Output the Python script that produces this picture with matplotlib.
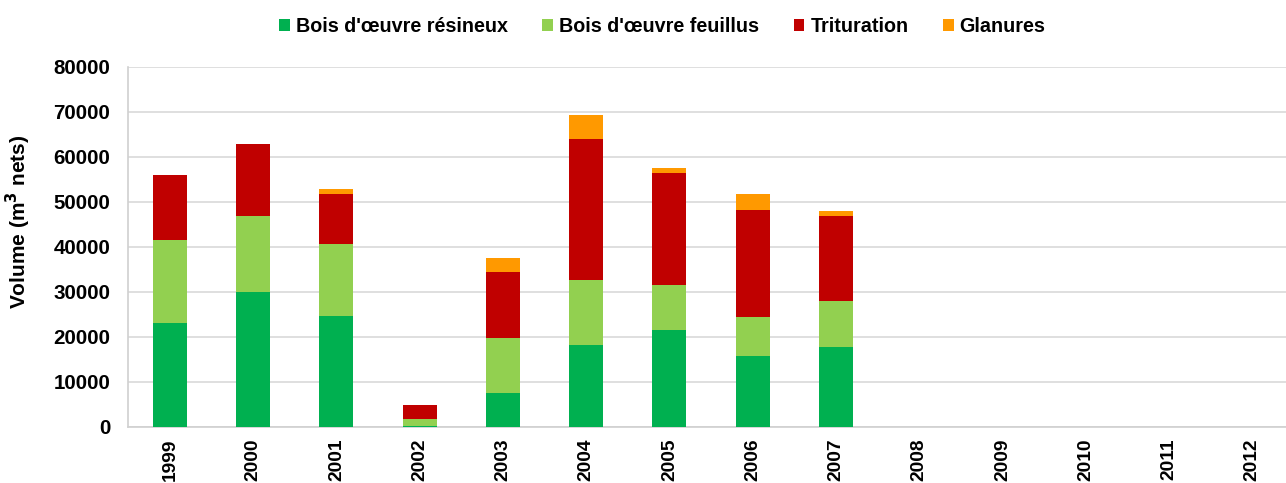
import numpy as np
import matplotlib.pyplot as plt

annees = ['1999', '2000', '2001', '2002', '2003', '2004', '2005', '2006', '2007',
          '2008', '2009', '2010', '2011', '2012']
resineux = [23000, 30000, 24700, 300, 7500, 18100, 21500, 15800, 17800, 0, 0, 0, 0, 0]
feuillus = [18400, 16900, 15900, 1500, 12200, 14600, 10000, 8500, 10200, 0, 0, 0, 0, 0]
trituration = [14500, 15900, 11000, 3000, 14800, 31200, 24900, 23900, 18900, 0, 0, 0, 0, 0]
glanures = [0, 0, 1300, 0, 3000, 5400, 1000, 3400, 1100, 0, 0, 0, 0, 0]

series = [
    ("Bois d'œuvre résineux", resineux, '#00b050'),
    ("Bois d'œuvre feuillus", feuillus, '#92d050'),
    ('Trituration', trituration, '#c00000'),
    ('Glanures', glanures, '#ff9900'),
]

plt.rcParams['font.family'] = ['Liberation Sans', 'DejaVu Sans']
plt.rcParams['font.weight'] = 'bold'

fig = plt.figure(figsize=(12.86, 4.83), dpi=100)
# l'axe déborde un peu à droite comme dans l'original (image rognée)
ax = fig.add_axes([128.3 / 1286, 56 / 483, 1165.5 / 1286, 360.5 / 483])

x = np.arange(len(annees))
bas = np.zeros(len(annees))
for nom, vals, couleur in series:
    vals = np.array(vals, dtype=float)
    ax.bar(x, vals, 0.41, bottom=bas, color=couleur, label=nom, zorder=3, linewidth=0)
    bas += vals

ax.set_xlim(-0.5, len(annees) - 0.5)
ax.set_ylim(0, 80000)
ax.set_yticks(range(0, 80001, 10000))
ax.set_yticklabels([str(v) for v in range(0, 80001, 10000)], fontsize=14.8, fontweight='bold')
ax.set_xticks(x)
ax.set_xticklabels(annees, rotation=90, fontsize=13.8, fontweight='bold')
ax.tick_params(length=0, pad=13, axis='y')
ax.tick_params(length=0, pad=8.5, axis='x')

ax.grid(axis='y', color='#d9d9d9', linewidth=1.2, zorder=0)
for s in ['top', 'right']:
    ax.spines[s].set_visible(False)
ax.spines['left'].set_color('#d0d0d0')
ax.spines['bottom'].set_color('#d0d0d0')
ax.spines['left'].set_linewidth(1.2)
ax.spines['bottom'].set_linewidth(1.2)

ax.set_ylabel('Volume (m$^\\mathbf{3}$ nets)', fontsize=15, fontweight='bold')
ax.yaxis.set_label_coords(-0.082, 0.57)

fig.legend(loc='upper center', bbox_to_anchor=(0.515, 1.002), ncol=4, frameon=False,
           handlelength=0.55, handleheight=0.55, handletextpad=0.3,
           columnspacing=1.75, prop={'weight': 'bold', 'size': 14.2})

fig.savefig('out.png', dpi=100)
